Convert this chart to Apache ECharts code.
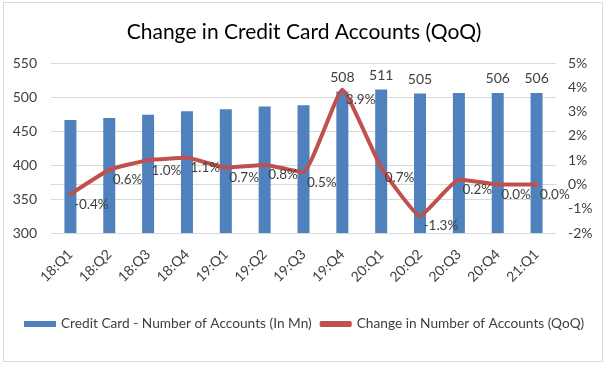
<!DOCTYPE html>
<html>
<head>
<meta charset="utf-8">
<script src="https://cdn.jsdelivr.net/npm/echarts@6/dist/echarts.min.js"></script>
<style>
html,body{margin:0;padding:0;background:#fff;}
#chart{width:608px;height:367px;}
</style>
</head>
<body>
<div id="chart"></div>
<script>
const categories = ['18:Q1','18:Q2','18:Q3','18:Q4','19:Q1','19:Q2','19:Q3','19:Q4','20:Q1','20:Q2','20:Q3','20:Q4','21:Q1'];
const accounts = [466, 469, 474, 479, 482, 486, 488, 508, 511, 505, 506, 506, 506];
const qoqChange = [-0.4, 0.6, 1.0, 1.1, 0.7, 0.8, 0.5, 3.9, 0.7, -1.3, 0.2, 0.0, 0.0];
const labeledBars = ['19:Q4','20:Q1','20:Q2','20:Q4','21:Q1'];
const leftTicks = {min: 300, max: 550, interval: 50};
const rightTicks = {min: -2, max: 5, interval: 1};
const barName = 'Credit Card - Number of Accounts (In Mn)';
const lineName = 'Change in Number of Accounts (QoQ)';

const FONT = 'Lato';
const chart = echarts.init(document.getElementById('chart'));
chart.setOption({
  animation: false,
  backgroundColor: '#fff',
  textStyle: {fontFamily: FONT},
  title: {
    text: 'Change in Credit Card Accounts (QoQ)',
    left: 'center', top: 17,
    textStyle: {fontFamily: FONT, fontSize: 21, fontWeight: 'normal', color: '#000'}
  },
  graphic: [{
    type: 'rect', shape: {x: 3.5, y: 2.5, width: 599, height: 359},
    style: {fill: 'none', stroke: '#d9d9d9', lineWidth: 1}, silent: true, z: -1
  }],
  legend: {
    bottom: 31, left: 19, itemGap: 8, itemWidth: 32, itemHeight: 6,
    textStyle: {fontFamily: FONT, fontSize: 13.7, color: '#404040'},
    data: [{name: barName, icon: 'rect'}, {name: lineName, icon: 'roundRect'}]
  },
  grid: {left: 51, right: 52, top: 63, bottom: 134, containLabel: false},
  xAxis: {
    type: 'category', data: categories, boundaryGap: true,
    axisLine: {lineStyle: {color: '#d9d9d9'}},
    axisTick: {show: false},
    axisLabel: {rotate: 45, margin: 19, fontSize: 14, color: '#404040', fontFamily: FONT, interval: 0}
  },
  yAxis: [{
    type: 'value', min: leftTicks.min, max: leftTicks.max, interval: leftTicks.interval,
    axisLine: {show: false}, axisTick: {show: false},
    axisLabel: {fontSize: 14, color: '#404040', margin: 14, fontFamily: FONT},
    splitLine: {lineStyle: {color: '#d9d9d9'}}
  }, {
    type: 'value', min: rightTicks.min, max: rightTicks.max, interval: rightTicks.interval,
    axisLine: {show: false}, axisTick: {show: false},
    axisLabel: {fontSize: 14, color: '#404040', margin: 12, fontFamily: FONT, formatter: '{value}%'},
    splitLine: {show: false}
  }],
  series: [{
    name: barName, type: 'bar', yAxisIndex: 0, barWidth: 12,
    itemStyle: {color: '#4f81bd'},
    data: accounts.map((v, i) => ({value: v, label: {show: labeledBars.includes(categories[i])}})),
    label: {position: 'top', distance: 7, fontSize: 14, color: '#404040', fontFamily: FONT}
  }, {
    name: lineName, type: 'line', yAxisIndex: 1, smooth: 0.12,
    symbol: 'circle', symbolSize: 1, showSymbol: true,
    lineStyle: {color: '#c0504d', width: 4, cap: 'round', join: 'round'},
    itemStyle: {color: '#c0504d'},
    data: qoqChange,
    z: 3,
    labelLayout: {dy: 10, hideOverlap: false},
    label: {show: true, position: 'right', distance: 3,
      fontSize: 13.5, color: '#404040', fontFamily: FONT,
      formatter: p => p.value.toFixed(1) + '%'}
  }]
});
</script>
</body>
</html>
